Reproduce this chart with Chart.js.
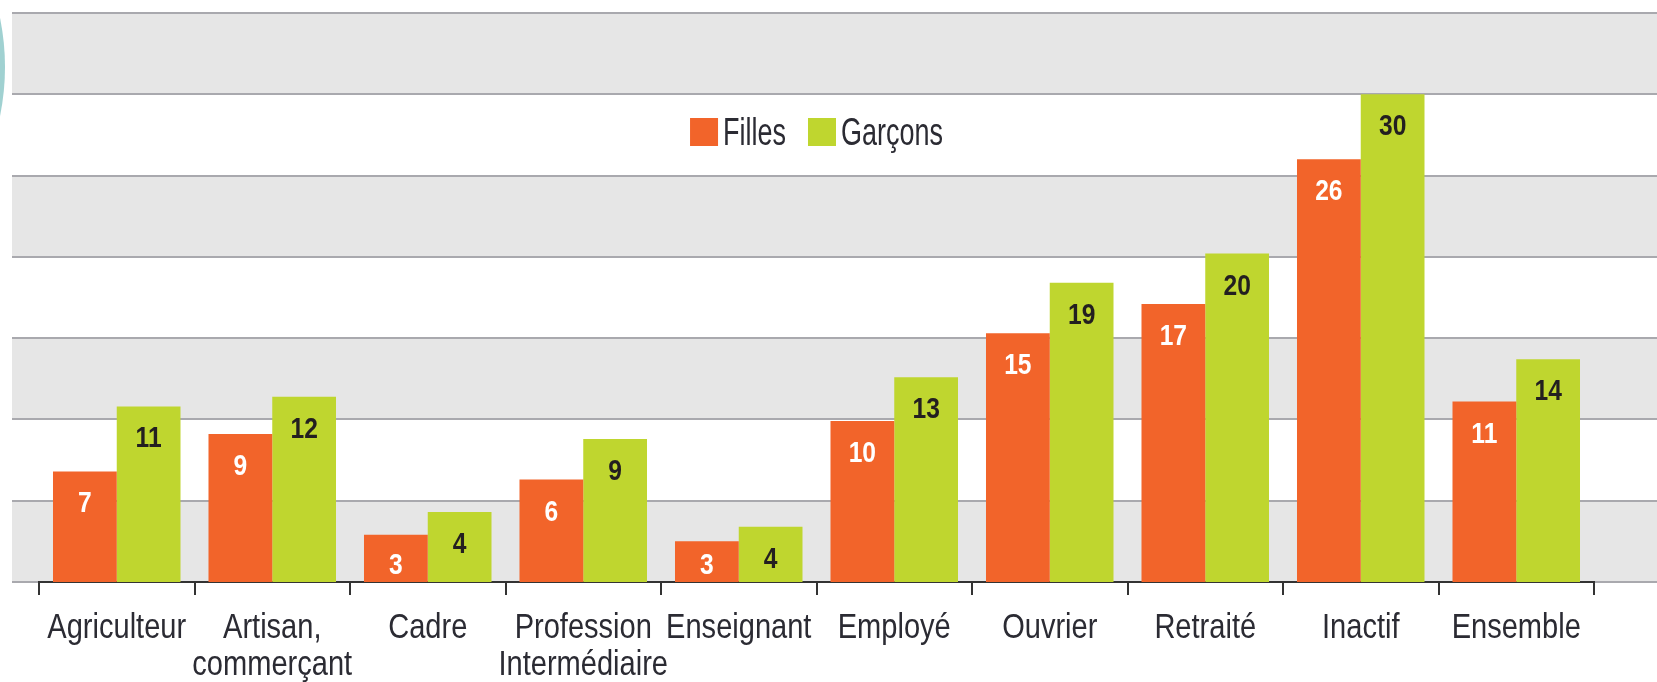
<!DOCTYPE html>
<html>
<head>
<meta charset="utf-8">
<script src="https://cdn.jsdelivr.net/npm/chart.js@4"></script>
<style>
    html, body { margin: 0; padding: 0; background: #fff; }
    #wrap { width: 1657px; height: 682px; position: relative; }
</style>
</head>
<body>
<div id="wrap"><canvas id="chart"></canvas></div>
<script>
// no narrow font installed, so Liberation Sans is squeezed horizontally
const FONT = "'Liberation Sans', Arial, sans-serif";

// categories and values
const categories = ['Agriculteur', ['Artisan,', 'commerçant'], 'Cadre', ['Profession', 'Intermédiaire'],
    'Enseignant', 'Employé', 'Ouvrier', 'Retraité', 'Inactif', 'Ensemble'];
const seriesNames = ['Filles', 'Garçons'];
const fillesValues = [6.8, 9.1, 2.9, 6.3, 2.5, 9.9, 15.3, 17.1, 26.0, 11.1];
const garconsValues = [10.8, 11.4, 4.3, 8.8, 3.4, 12.6, 18.4, 20.2, 30.0, 13.7];
// numbers printed on the bars
const fillesLabels = [7, 9, 3, 6, 3, 10, 15, 17, 26, 11];
const garconsLabels = [11, 12, 4, 9, 4, 13, 19, 20, 30, 14];
const yTicks = [0, 5, 10, 15, 20, 25, 30, 35];

const ORANGE = '#f2642a';
const LIME = '#bfd62f';
const TEXT = '#2b2b33';

function squeezedText(ctx, text, x, y, sx) {
    ctx.save();
    ctx.translate(x, y);
    ctx.scale(sx, 1);
    ctx.fillText(text, 0, 0);
    ctx.restore();
}

// grey / white bands and the grid, drawn across the whole width
const bandsPlugin = {
    id: 'bands',
    beforeDraw(chart) {
        const ctx = chart.ctx;
        const y = chart.scales.y;
        const left = 12, right = chart.width;
        ctx.save();
        // teal circle on the left edge
        ctx.fillStyle = '#a0d1d1';
        ctx.beginPath();
        ctx.arc(-240, 67, 245, 0, Math.PI * 2);
        ctx.fill();
        for (let i = 0; i < yTicks.length - 1; i++) {
            if (i % 2 === 0) {
                const top = y.getPixelForValue(yTicks[i + 1]);
                const bottom = y.getPixelForValue(yTicks[i]);
                ctx.fillStyle = '#e6e6e6';
                ctx.fillRect(left, top, right - left, bottom - top);
            }
        }
        ctx.strokeStyle = '#a9a9ae';
        ctx.lineWidth = 2;
        yTicks.forEach(v => {
            const py = Math.round(y.getPixelForValue(v));
            ctx.beginPath();
            ctx.moveTo(left, py);
            ctx.lineTo(right, py);
            ctx.stroke();
        });
        ctx.restore();
    }
};

// values on the bars, category labels and legend
const labelsPlugin = {
    id: 'barLabels',
    afterDatasetsDraw(chart) {
        const ctx = chart.ctx;
        const texts = [fillesLabels, garconsLabels];
        const colors = ['#ffffff', '#231f20'];
        ctx.save();
        ctx.font = 'bold 30px ' + FONT;
        ctx.textAlign = 'center';
        ctx.textBaseline = 'alphabetic';
        chart.data.datasets.forEach((ds, di) => {
            const meta = chart.getDatasetMeta(di);
            meta.data.forEach((bar, i) => {
                ctx.fillStyle = colors[di];
                const y = Math.min(bar.y + 41, bar.base - 8);
                squeezedText(ctx, String(texts[di][i]), bar.x, y, 0.82);
            });
        });

        // category labels under the axis
        const xs = chart.scales.x;
        ctx.font = '35px ' + FONT;
        ctx.fillStyle = TEXT;
        categories.forEach((cat, i) => {
            const lines = Array.isArray(cat) ? cat : [cat];
            const x = xs.getPixelForTick(i);
            lines.forEach((line, li) => {
                squeezedText(ctx, line, x, xs.bottom + 43 + li * 37, 0.83);
            });
        });

        // legend
        ctx.font = '38px ' + FONT;
        ctx.textAlign = 'left';
        const sx = 0.71;
        const box = 28, gapText = 5, gapItem = 22;
        const widths = chart.data.datasets.map(ds => box + gapText + ctx.measureText(ds.label).width * sx);
        const total = widths.reduce((a, b) => a + b, 0) + gapItem * (widths.length - 1);
        let x = (chart.chartArea.left + chart.chartArea.right) / 2 - total / 2;
        chart.data.datasets.forEach((ds, di) => {
            ctx.fillStyle = ds.backgroundColor;
            ctx.fillRect(x, 118, box, box);
            ctx.fillStyle = TEXT;
            squeezedText(ctx, ds.label, x + box + gapText, 145, sx);
            x += widths[di] + gapItem;
        });
        ctx.restore();
    }
};

new Chart(document.getElementById('chart'), {
    type: 'bar',
    data: {
        labels: categories,
        datasets: [{
            label: seriesNames[0],
            data: fillesValues,
            backgroundColor: ORANGE,
            borderWidth: 0,
            barPercentage: 1,
            categoryPercentage: 0.82
        }, {
            label: seriesNames[1],
            data: garconsValues,
            backgroundColor: LIME,
            borderWidth: 0,
            barPercentage: 1,
            categoryPercentage: 0.82
        }]
    },
    options: {
        responsive: true,
        maintainAspectRatio: false,
        animation: false,
        layout: {
            padding: { left: 39, right: 63, top: 13, bottom: 87 }
        },
        plugins: {
            legend: { display: false },
            tooltip: { enabled: false }
        },
        scales: {
            x: {
                offset: true,
                border: { display: true, color: '#333', width: 2 },
                grid: {
                    offset: true,
                    drawOnChartArea: false,
                    drawTicks: true,
                    tickLength: 13,
                    color: '#333',
                    lineWidth: 2
                },
                ticks: { display: false }
            },
            y: {
                display: false,
                min: 0,
                max: 35,
                ticks: { stepSize: 5 }
            }
        }
    },
    plugins: [bandsPlugin, labelsPlugin]
});
</script>
</body>
</html>
